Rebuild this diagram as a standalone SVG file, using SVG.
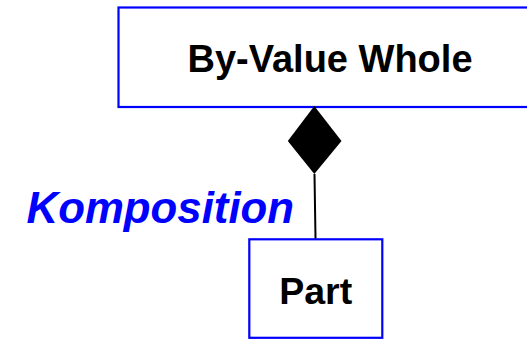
<svg xmlns="http://www.w3.org/2000/svg" width="527" height="339" viewBox="0 0 527 339">
<style>
.box{fill:#fff;stroke:#0000ff;stroke-width:2.2}
.lbl{font-family:"Liberation Sans",Arial,sans-serif;font-weight:bold;fill:#000;text-anchor:middle}
.role{font-family:"Liberation Sans",Arial,sans-serif;font-weight:bold;font-style:italic;fill:#0000ff}
</style>
<rect width="527" height="339" fill="#fff"/>
<g id="whole">
<rect class="box" x="118.5" y="7.5" width="424" height="99.5"/>
<text class="lbl" x="330" y="72" font-size="38">By-Value Whole</text>
</g>
<g id="part">
<rect class="box" x="249.3" y="239.3" width="133" height="98.5"/>
<text class="lbl" x="315.7" y="304.3" font-size="37.5">Part</text>
</g>
<g id="connectors">
<line x1="314.5" y1="174" x2="315.5" y2="238.5" stroke="#000" stroke-width="2"/>
<polygon points="314.3,106 341.5,141 314.3,174 287.8,141" fill="#000"/>
<text class="role" x="26.5" y="222.5" font-size="43.8">Komposition</text>
</g>
</svg>
